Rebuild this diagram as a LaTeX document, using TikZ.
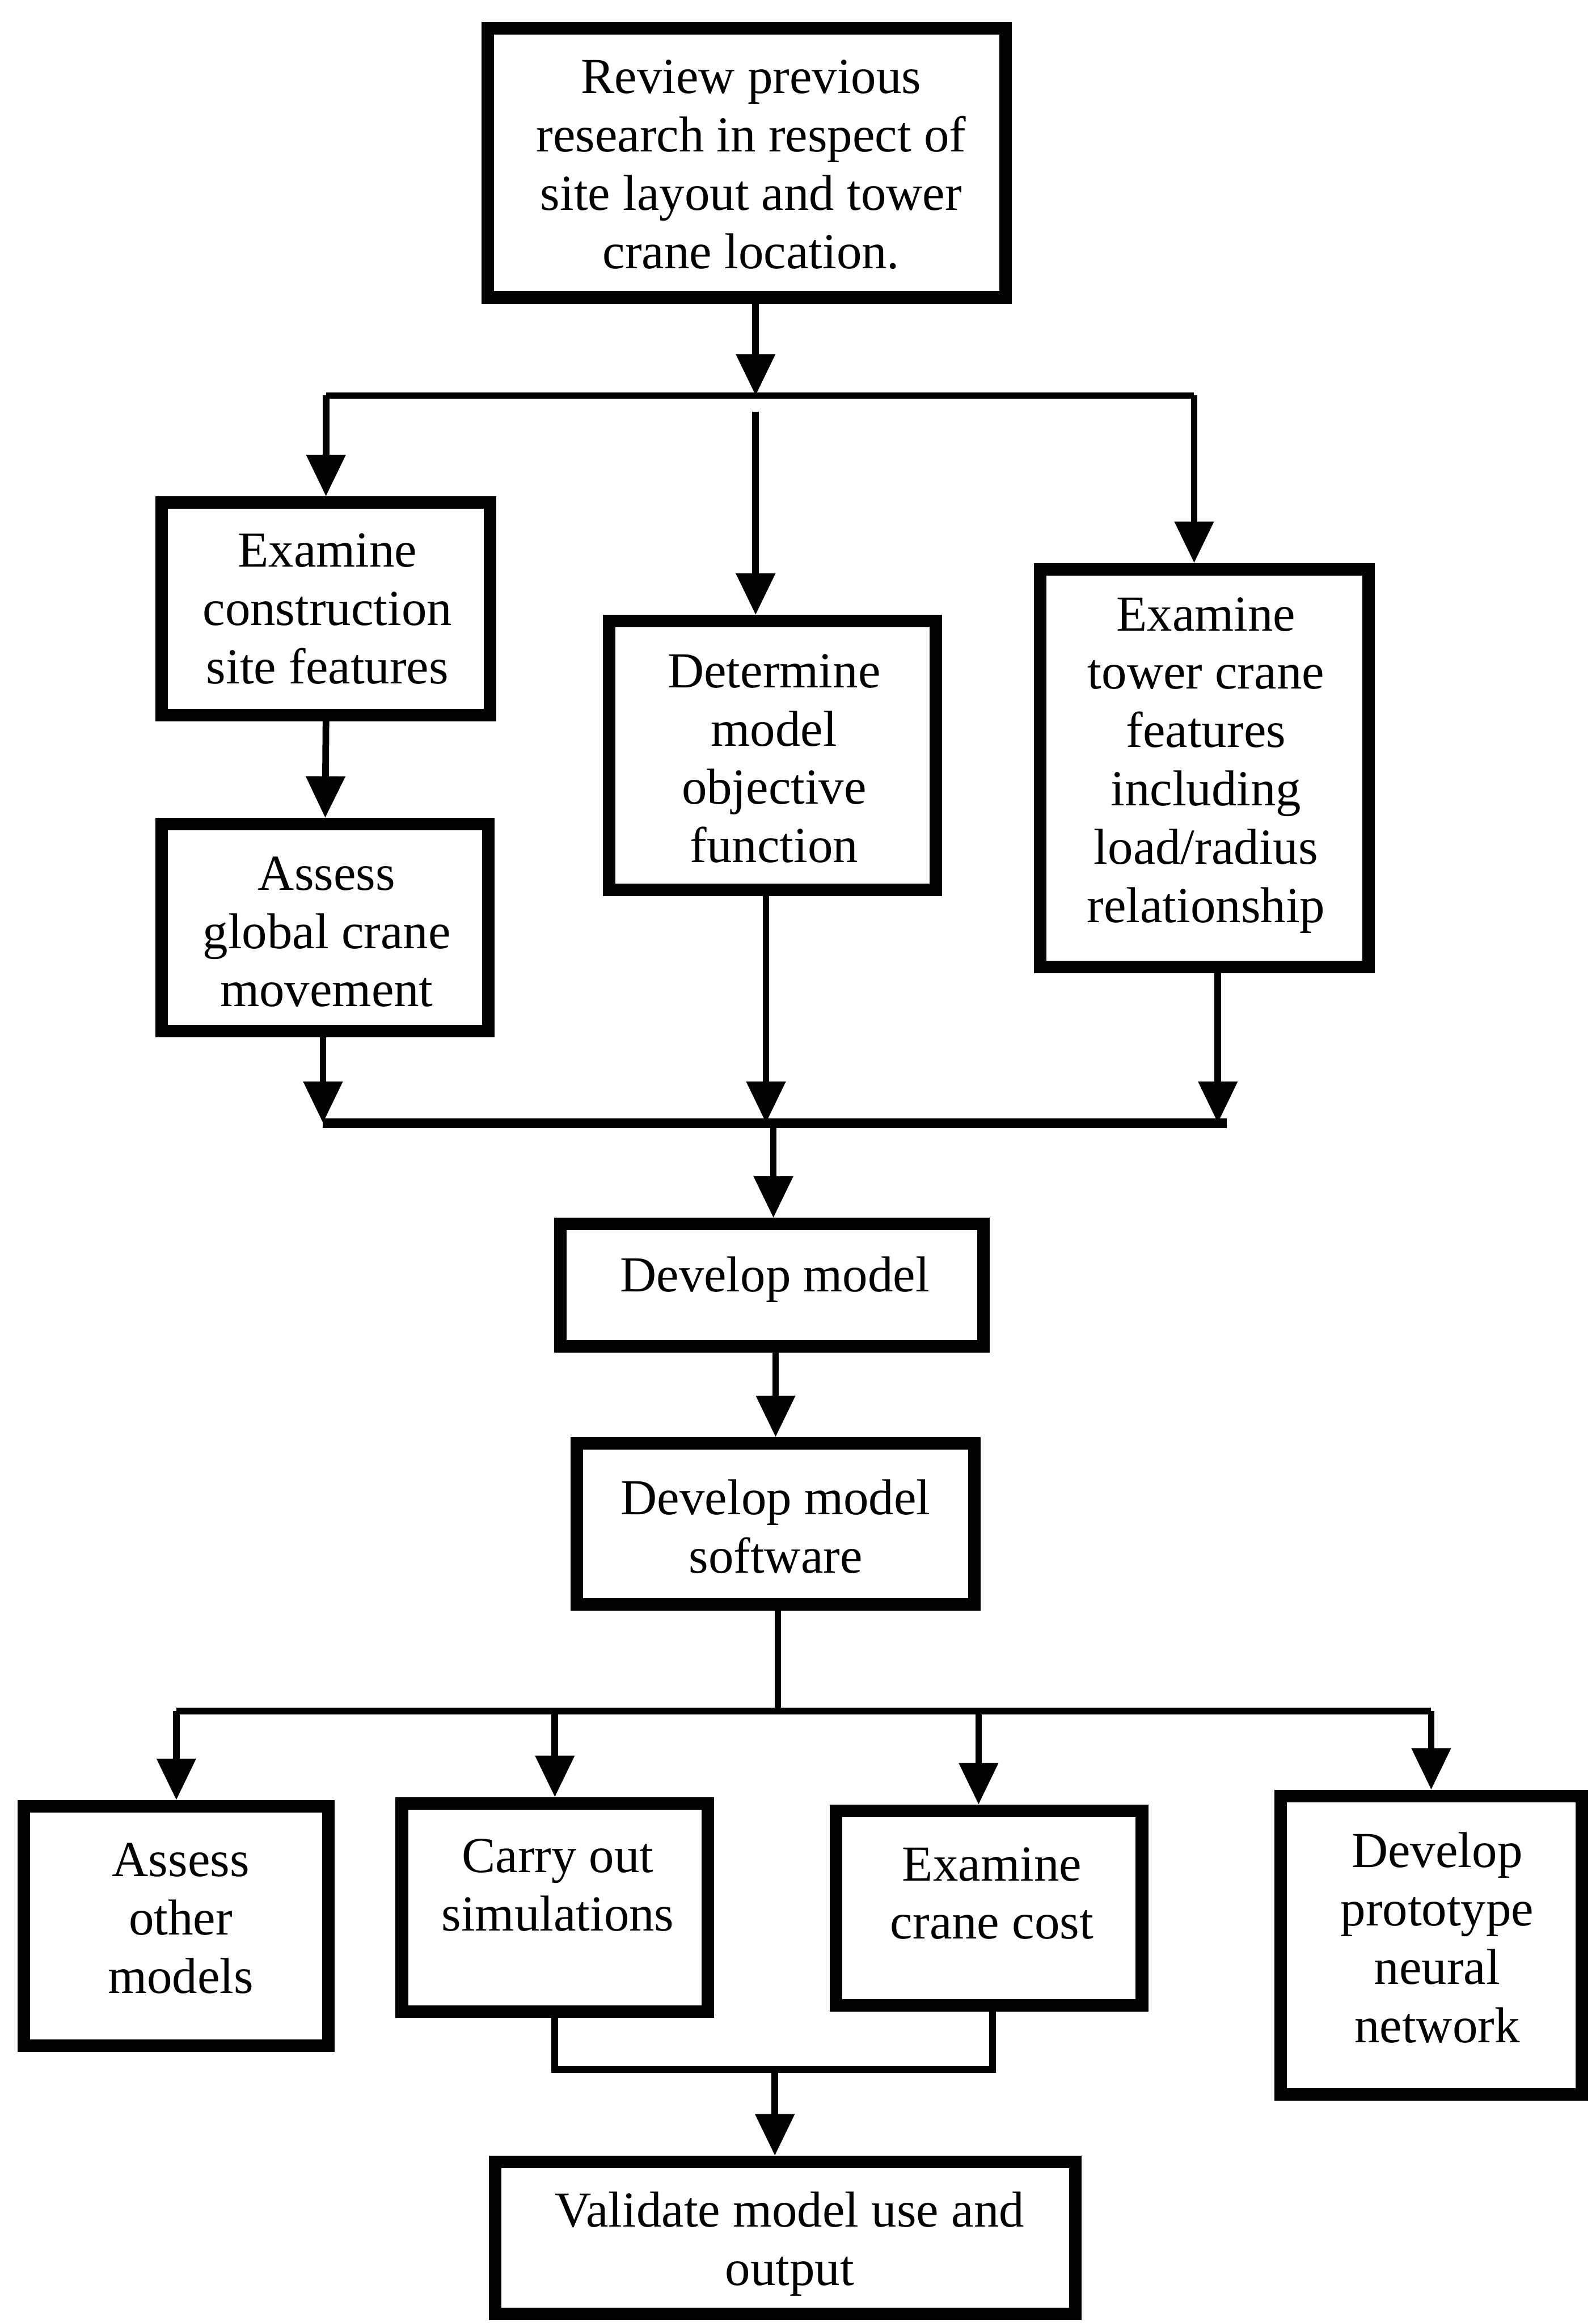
\documentclass[tikz,border=0pt]{standalone}
\usepackage{fontspec}
\setmainfont{Liberation Serif}
\usetikzlibrary{arrows.meta,calc}
\begin{document}
\begin{tikzpicture}[x=0.025cm,y=-0.025cm,
  bx/.style 2 args={draw, line width=6pt, minimum width=#1*0.025cm-6pt,
    minimum height=#2*0.025cm-6pt, inner sep=0pt},
  txt/.style={inner sep=0pt, align=center,
    font=\fontsize{24.2pt}{28pt}\selectfont},
  link/.style={line width=3.2pt},
  arr/.style={link, -{Triangle[width=0.64cm,length=0.70cm]}},
  bar/.style={line width=4.6pt}]
\useasboundingbox (0,0) rectangle (1077,1568);

% process boxes
\node[bx={358}{190}] (review) at (504,110) {};
\node[bx={230}{152}] (site) at (220,411) {};
\node[bx={229}{148}] (global) at (219.5,626) {};
\node[bx={229}{190}] (objective) at (521.5,510) {};
\node[bx={230}{277}] (tower) at (813,518.5) {};
\node[bx={294}{91}] (devmodel) at (521,867.5) {};
\node[bx={277}{117}] (software) at (523.5,1028.5) {};
\node[bx={214}{170}] (other) at (119,1300) {};
\node[bx={215}{149}] (sim) at (374.5,1287.5) {};
\node[bx={215}{140}] (cost) at (667.5,1288) {};
\node[bx={212}{210}] (neural) at (966,1313) {};
\node[bx={400}{111}] (validate) at (530,1510.5) {};

% box texts
\node[txt] (review-t) at ($(review)+(3,1)$) {Review previous\\research in respect of\\site layout and tower\\crane location.};
\node[txt] (site-t) at ($(site)+(1,0)$) {Examine\\construction\\site features};
\node[txt] (global-t) at ($(global)+(1,3)$) {Assess\\global crane\\movement};
\node[txt] (objective-t) at ($(objective)+(1,2)$) {Determine\\model\\objective\\function};
\node[txt] (tower-t) at ($(tower)+(1,-2)$) {Examine\\tower crane\\features\\including\\load/radius\\relationship};
\node[txt] (devmodel-t) at ($(devmodel)+(2,-4)$) {Develop model};
\node[txt] (software-t) at ($(software)+(0,2)$) {Develop model\\software};
\node[txt] (other-t) at ($(other)+(3,-5)$) {Assess\\other\\models};
\node[txt] (sim-t) at ($(sim)+(2,-15)$) {Carry out\\simulations};
\node[txt] (cost-t) at ($(cost)+(2,-10)$) {Examine\\crane cost};
\node[txt] (neural-t) at ($(neural)+(4,-5)$) {Develop\\prototype\\neural\\network};
\node[txt] (validate-t) at ($(validate)+(3,4)$) {Validate model use and\\output};

% junction points
\coordinate (split1) at (510,267);
\coordinate (gap1) at (510,278);
\coordinate (merge1) at (522,758);
\coordinate (split2) at (525,1155);
\coordinate (merge2) at (523,1397);

% first fan-out
\draw[arr] (review.south -| split1) -- (split1);
\draw[link] (site.north |- split1) -- ([xshift=-7*0.025cm]tower.north |- split1);
\draw[arr] (site.north |- split1) -- (site.north);
\draw[arr] (gap1) -- (gap1 |- objective.north);
\draw[arr] ([xshift=-7*0.025cm]tower.north |- split1) -- ([xshift=-7*0.025cm]tower.north);
\draw[arr] (site.south) -- (global.north);

% collection bar
\draw[arr] ([xshift=-1.5*0.025cm]global.south) -- ([xshift=-1.5*0.025cm]global.south |- merge1);
\draw[arr] ([xshift=-4.5*0.025cm]objective.south) -- ([xshift=-4.5*0.025cm]objective.south |- merge1);
\draw[arr] ([xshift=9*0.025cm]tower.south) -- ([xshift=9*0.025cm]tower.south |- merge1);
\draw[bar] ([xshift=-1.5*0.025cm]global.south |- merge1) -- (828,758);
\draw[arr] (merge1) -- (merge1 |- devmodel.north);
\draw[arr] (devmodel.south -| software.north) -- (software.north);

% second fan-out
\draw[link] (software.south -| split2) -- (split2);
\draw[link] (other.north |- split2) -- (neural.north |- split2);
\draw[arr] (other.north |- split2) -- (other.north);
\draw[arr] (sim.north |- split2) -- (sim.north);
\draw[arr] ([xshift=-7*0.025cm]cost.north |- split2) -- ([xshift=-7*0.025cm]cost.north);
\draw[arr] (neural.north |- split2) -- (neural.north);

% results joined for validation
\draw[link] (sim.south) -- (sim.south |- merge2) -- ([xshift=2.5*0.025cm]cost.south |- merge2) -- ([xshift=2.5*0.025cm]cost.south);
\draw[arr] (merge2) -- (merge2 |- validate.north);
\end{tikzpicture}
\end{document}
